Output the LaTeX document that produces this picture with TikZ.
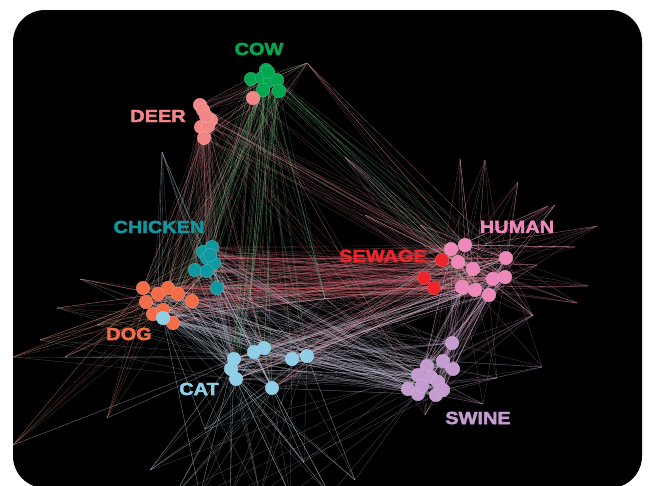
\documentclass[tikz,border=0pt]{standalone}
\usepackage{fontspec}
\newfontfamily\lblfont{Liberation Sans}[FakeStretch=1.14, BoldFeatures={FakeBold=2.5}]
\pgfdeclarelayer{bg}
\pgfdeclarelayer{edges}
\pgfsetlayers{bg,edges,main}
\definecolor{cowc}{RGB}{0,166,80}
\definecolor{deerc}{RGB}{242,134,134}
\definecolor{chkc}{RGB}{16,152,160}
\definecolor{dogc}{RGB}{242,108,72}
\definecolor{catc}{RGB}{142,206,230}
\definecolor{sewc}{RGB}{236,36,44}
\definecolor{humc}{RGB}{238,136,186}
\definecolor{swic}{RGB}{196,156,210}
\definecolor{ehum}{RGB}{235,165,195}
\definecolor{esew}{RGB}{185,80,90}
\definecolor{eswi}{RGB}{210,180,220}
\definecolor{ecat}{RGB}{190,215,230}
\definecolor{edog}{RGB}{220,140,120}
\definecolor{echk}{RGB}{120,190,190}
\definecolor{ecow}{RGB}{120,200,140}
\definecolor{edeer}{RGB}{205,130,135}
\definecolor{ehd}{RGB}{180,100,110}
\definecolor{ehc}{RGB}{215,185,205}
\definecolor{ehs}{RGB}{215,170,205}
\definecolor{ecs}{RGB}{200,190,215}
\definecolor{ecd}{RGB}{185,195,210}
\tikzset{
  dot/.style={circle, minimum size=13.5pt, inner sep=0pt, fill=#1, draw=#1!70!white, line width=0.3pt},
  lbl/.style={font=\lblfont\bfseries\fontsize{17.5}{17.5}\selectfont, inner sep=0pt, text=#1},
  edge/.style={draw=#1, line width=0.3pt, opacity=0.38}
}
\newcommand\web[6]{\foreach \k in {1,...,#5}{\pgfmathrandominteger{\ra}{1}{#2}\pgfmathrandominteger{\rb}{1}{#4}\draw[edge=#6] (#1\ra.center) -- (#3\rb.center);}}
\newcommand\spk[5]{\foreach \k in {1,...,#4}{\pgfmathrandominteger{\ra}{1}{#3}\draw[edge=#5] (#1) -- (#2\ra.center);}}
\begin{document}
\begin{tikzpicture}[x=1pt,y=-1pt]
\useasboundingbox (0,0) rectangle (650,485);
\begin{pgfonlayer}{bg}
\fill[white] (0,0) rectangle (650,485);
\fill[black, rounded corners=32pt] (13,10) rectangle (642,488);
\end{pgfonlayer}
% nodes
\foreach \x/\y [count=\i] in {251/79,266/70,262/78,270/80,277/80,263/90,279/91,268/72}
  \node[dot=cowc] (cow\i) at (\x,\y) {};
\foreach \x/\y [count=\i] in {253/98,200/105,203/110,211/120,201/127,208/126,206/116,204/138}
  \node[dot=deerc] (deer\i) at (\x,\y) {};
\foreach \x/\y [count=\i] in {203/252,212/247,207/258,214/263,210/255,195/270,207/271,217/288}
  \node[dot=chkc] (chk\i) at (\x,\y) {};
\foreach \x/\y [count=\i] in {143/288,158/294,168/288,178/294,146/302,192/301,153/314,163/310,173/323}
  \node[dot=dogc] (dog\i) at (\x,\y) {};
\foreach \x/\y [count=\i] in {234/359,254/352,264/348,231/369,236/379,292/359,307/356,272/388,163/318}
  \node[dot=catc] (cat\i) at (\x,\y) {};
\foreach \x/\y [count=\i] in {442/260,424/278,434/288}
  \node[dot=sewc] (sew\i) at (\x,\y) {};
\foreach \x/\y [count=\i] in {451/249,465/245,458/262,473/269,506/258,493/279,505/277,462/287,475/290,489/295}
  \node[dot=humc] (hum\i) at (\x,\y) {};
\foreach \x/\y [count=\i] in {452/343,443/361,453/369,427/366,418/375,431/377,438/382,408/389,418/394,436/395,443/390,422/386}
  \node[dot=swic] (swi\i) at (\x,\y) {};
% labels
\node[lbl=cowc] (lcow) at (259,49) {COW};
\node[lbl=deerc] (ldeer) at (158,116) {DEER};
\node[lbl=chkc] (lchk) at (159,227) {CHICKEN};
\node[lbl=sewc] (lsew) at (383,256) {SEWAGE};
\node[lbl=humc] (lhum) at (517,227) {HUMAN};
\node[lbl=dogc] (ldog) at (129,334) {DOG};
\node[lbl=catc] (lcat) at (199,389) {CAT};
\node[lbl=swic] (lswi) at (478,418) {SWINE};
% spike coordinates
\foreach \x/\y [count=\i] in {597/226,588/286,577/303,548/206,518/182,485/160,460/159,575/247,537/265,533/316,555/205,420/225,365/215,345/157}
  \coordinate (hs\i) at (\x,\y);
\foreach \x/\y [count=\i] in {80/279,57/308,13/357,65/357,107/418,13/445,97/325,40/340}
  \coordinate (ds\i) at (\x,\y);
\foreach \x/\y [count=\i] in {205/429,304/462,175/495,200/495,230/495,260/495,290/495,330/495,150/470,355/480}
  \coordinate (cs\i) at (\x,\y);
\foreach \x/\y [count=\i] in {542/367,497/378,483/404,425/415,533/315}
  \coordinate (ss\i) at (\x,\y);
\coordinate (top) at (307,63);
\coordinate (mida) at (250,297);
\coordinate (midb) at (325,298);
\coordinate (upch) at (162,152);
\begin{pgfonlayer}{edges}
\begin{scope}
\clip[rounded corners=32pt] (13,10) rectangle (642,488);
\pgfmathsetseed{11}
\web{hum}{10}{hum}{10}{70}{ehum}
\web{hum}{10}{sew}{3}{25}{ehum}
\web{swi}{12}{swi}{12}{40}{eswi}
\web{cat}{9}{cat}{9}{25}{ecat}
\web{dog}{9}{dog}{9}{25}{edog}
\web{chk}{8}{chk}{8}{15}{echk}
\web{dog}{9}{chk}{8}{30}{edog}
\web{cow}{8}{cow}{8}{15}{ecow}
\web{deer}{8}{deer}{8}{15}{edeer}
\web{cow}{8}{deer}{8}{20}{edeer}
\web{hum}{10}{dog}{9}{90}{ehd}
\web{hum}{10}{chk}{8}{60}{ehd}
\web{sew}{3}{dog}{9}{30}{esew}
\web{sew}{3}{chk}{8}{20}{esew}
\web{hum}{10}{cat}{9}{70}{ehc}
\web{sew}{3}{cat}{9}{20}{esew}
\web{hum}{10}{swi}{12}{70}{ehs}
\web{swi}{12}{cat}{9}{70}{ecs}
\web{swi}{12}{dog}{9}{40}{ecs}
\web{swi}{12}{chk}{8}{30}{ecs}
\web{cat}{9}{dog}{9}{60}{ecd}
\web{cat}{9}{chk}{8}{50}{ecd}
\web{cow}{8}{cat}{9}{25}{ecow}
\web{cow}{8}{chk}{8}{15}{ecow}
\web{cow}{8}{dog}{9}{15}{ecow}
\web{cow}{8}{hum}{10}{15}{ecow}
\web{deer}{8}{dog}{9}{25}{edeer}
\web{deer}{8}{chk}{8}{20}{edeer}
\web{deer}{8}{cat}{9}{20}{edeer}
\web{deer}{8}{hum}{10}{25}{edeer}
\web{deer}{8}{swi}{12}{10}{edeer}
\foreach \i in {1,...,14}{\spk{hs\i}{hum}{10}{6}{ehum}\spk{hs\i}{sew}{3}{2}{esew}}
\foreach \i in {1,...,8}{\spk{ds\i}{dog}{9}{6}{edog}\spk{ds\i}{cat}{9}{2}{ecd}}
\foreach \i in {1,...,10}{\spk{cs\i}{cat}{9}{6}{ecat}\spk{cs\i}{swi}{12}{1}{ecs}}
\foreach \i in {1,...,5}{\spk{ss\i}{swi}{12}{6}{eswi}\spk{ss\i}{hum}{10}{2}{ehum}}
\spk{top}{cow}{8}{6}{ecow}
\spk{top}{hum}{10}{8}{edeer}
\spk{top}{dog}{9}{4}{edeer}
\spk{top}{deer}{8}{4}{edeer}
\spk{mida}{cow}{8}{8}{ecow}
\spk{mida}{cat}{9}{4}{ecat}
\spk{midb}{cow}{8}{6}{ecow}
\spk{midb}{cat}{9}{4}{ecat}
\spk{midb}{swi}{12}{4}{ecs}
\spk{upch}{dog}{9}{5}{ecd}
\spk{upch}{chk}{8}{4}{echk}
\spk{upch}{cat}{9}{3}{ecd}
\end{scope}
\end{pgfonlayer}
\end{tikzpicture}
\end{document}
